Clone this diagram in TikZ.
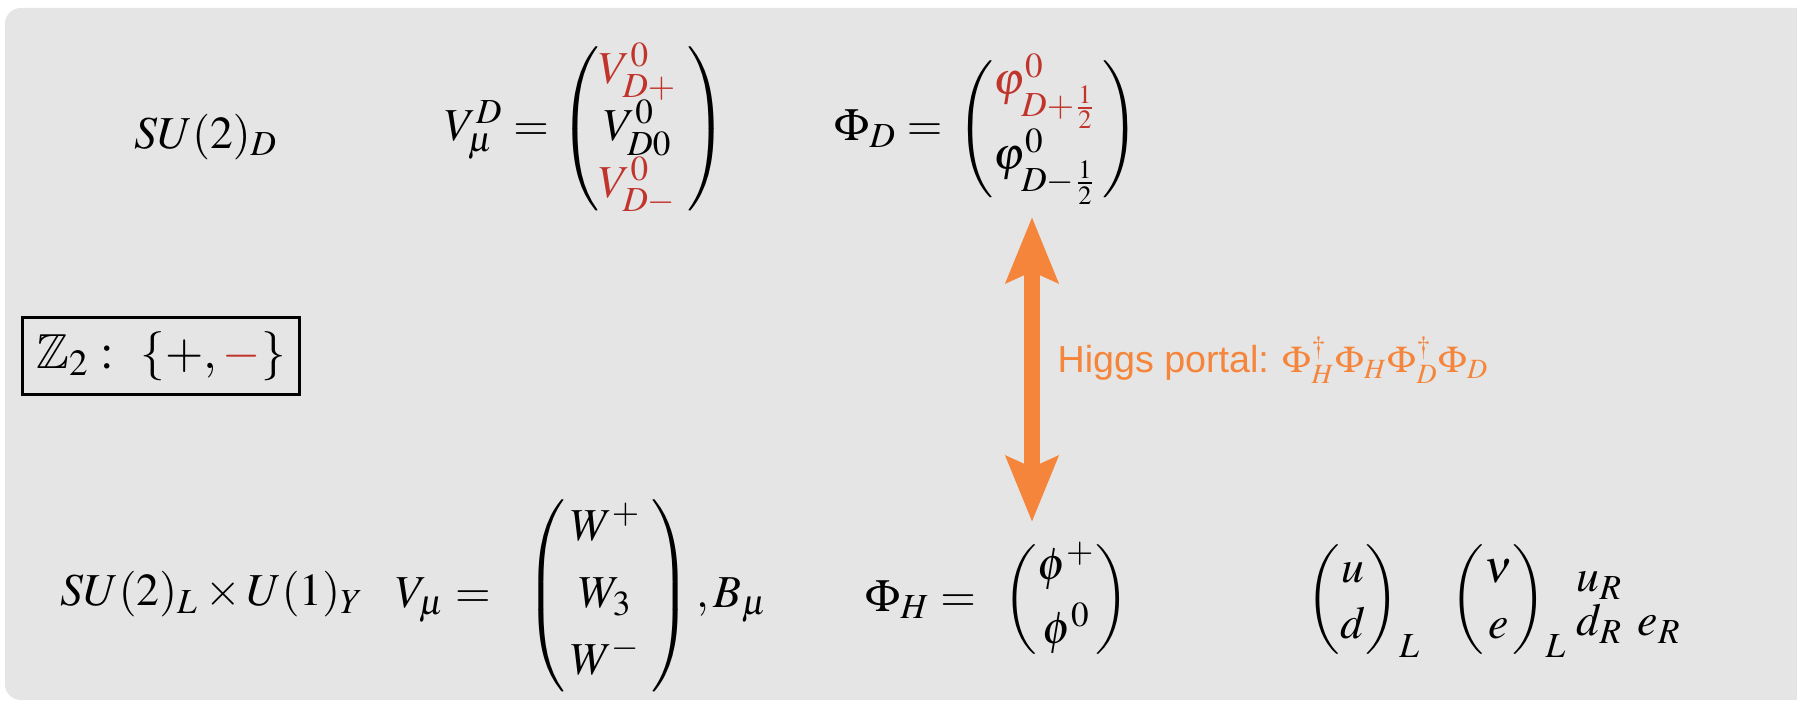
\documentclass[tikz,border=0pt]{standalone}
\usepackage{amsmath,amssymb}
\usepackage{mathptmx}
\usepackage[no-math]{fontspec}
\newfontfamily\hfont{Liberation Sans}
\usetikzlibrary{arrows.meta}
\DeclareMathSizes{13}{13}{10}{7.5}
\DeclareMathSizes{14}{14}{10.5}{8}
\DeclareMathSizes{10.5}{10.5}{8}{6}
\definecolor{bg}{HTML}{E5E5E5}
\definecolor{dred}{HTML}{C0342C}
\definecolor{portal}{HTML}{F5853A}
\tikzset{
  eq/.style={font=\fontsize{13}{16}\selectfont, anchor=west, inner sep=0pt},
  zbox/.style={draw, line width=0.8pt, inner sep=4pt, font=\fontsize{14}{17}\selectfont},
  portaltext/.style={anchor=west, inner sep=0pt, text=portal, font=\hfont\fontsize{10.7}{13}\selectfont},
  portalarrow/.style={portal, line width=4.8pt, {Stealth[length=18.5pt,width=14.5pt,inset=3pt]}-{Stealth[length=18.5pt,width=14.5pt,inset=3pt]}}
}
\begin{document}
\begin{tikzpicture}[x=0.01cm,y=-0.01cm]
\useasboundingbox (0,0) rectangle (1797,701);
\fill[bg, rounded corners=4.5pt] (5,8) rectangle (1840,700);
% top row
\node[eq, anchor=center] (sud) at (206,137) {$SU(2)_D$};
\node[eq] (vd) at (444,129) {$V^D_\mu = \begin{pmatrix} {\color{dred}V^0_{D+}}\;\\ V^0_{D0}\;\\ {\color{dred}V^0_{D-}}\;\end{pmatrix}$};
\node[eq] (phd) at (834,129) {$\Phi_D =\, \begin{pmatrix}{\color{dred}\varphi^0_{D+\frac12}}\,\\ \varphi^0_{D-\frac12}\,\end{pmatrix}$};
% Z2 box
\node[zbox] (z2) at (161,356) {$\mathbb{Z}_2:\ \{+,{\color{dred}-}\}$};
% portal
\coordinate (atop) at (1032,217);
\coordinate (abot) at (1032,522);
\draw[portalarrow] (atop) -- (abot);
\node[portaltext] (hp) at (1057,360) {Higgs portal: $\Phi^\dagger_H\Phi_H\Phi^\dagger_D\Phi_D$};
% bottom row
\node[eq, anchor=base west] (sul) at (60,606) {$SU(2)_L\times U(1)_Y$};
\node[eq] (vmu) at (395,596) {$V_\mu =\hspace{7pt} \begin{pmatrix}\,W^+\;\\[3pt]\,W_3\;\\[3pt]\,W^-\;\end{pmatrix},B_\mu$};
\node[eq] (phh) at (865,600) {$\Phi_H =\hspace{5pt} \begin{pmatrix}\phi^+\\[2pt]\phi^0\end{pmatrix}$};
\node[eq] (q) at (1306,600) {$\begin{pmatrix}u\\d\end{pmatrix}_L$};
\node[eq] (l) at (1450,600) {$\begin{pmatrix}\nu\\e\end{pmatrix}_L$};
\node[eq, anchor=base west] (ur) at (1576,592) {$u_R$};
\node[eq, anchor=base west] (dr) at (1576,636) {$d_R\ e_R$};
\end{tikzpicture}
\end{document}
